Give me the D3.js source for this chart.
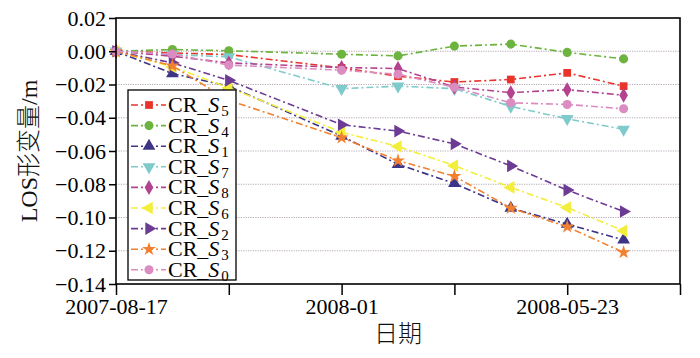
<!DOCTYPE html>
<html><head><meta charset="utf-8">
<script src="https://cdn.jsdelivr.net/npm/d3@7/dist/d3.min.js"></script>
<style>body{margin:0;background:#fff}</style>
</head><body>
<svg id="c" width="700" height="358"></svg>
<script>
// ---- data ----
const xIndex = [0, 1, 2, 4, 5, 6, 7, 8, 9];
const xTickValues = [0, 2, 4, 6, 8, 10];
const xTickLabels = ["2007-08-17", "", "2008-01", "", "2008-05-23", ""];
const yTickValues = [0.02, 0.00, -0.02, -0.04, -0.06, -0.08, -0.10, -0.12, -0.14];
const seriesSub = ["5", "4", "1", "7", "8", "6", "2", "3", "0"];
const S5 = [0, -0.001, -0.002, -0.010, -0.015, -0.0185, -0.017, -0.013, -0.021];
const S4 = [0, 0.001, 0.0003, -0.0018, -0.0028, 0.0031, 0.0043, -0.0007, -0.0046];
const S1 = [0, -0.0134, -0.021, -0.051, -0.068, -0.0795, -0.0943, -0.104, -0.1135];
const S7 = [0, -0.002, -0.0034, -0.0225, -0.021, -0.0225, -0.0332, -0.0406, -0.047];
const S8 = [0, -0.003, -0.007, -0.0098, -0.0104, -0.0215, -0.0249, -0.0231, -0.0265];
const S6 = [0, -0.0094, -0.022, -0.0487, -0.0573, -0.0688, -0.0819, -0.094, -0.108];
const S2 = [0, -0.007, -0.0175, -0.0442, -0.048, -0.0557, -0.069, -0.0835, -0.0964];
const S3 = [0, -0.0088, -0.0295, -0.052, -0.0658, -0.0752, -0.0943, -0.1056, -0.121];
const S0 = [0, -0.0017, -0.0083, -0.0114, -0.0138, -0.0217, -0.031, -0.032, -0.0346];
const seriesValues = [S5, S4, S1, S7, S8, S6, S2, S3, S0];

// ---- styles ----
const colors = ["#e8342b", "#6db33f", "#3c3487", "#7fcaca", "#b4438f", "#f3ee3c", "#6c3b93", "#f28031", "#db8cc0"];
const triUp = d3.symbol().type(d3.symbolTriangle).size(70)();
const shapes = [
  {p: d3.symbol().type(d3.symbolSquare).size(60)(), r: 0},
  {p: d3.symbol().type(d3.symbolCircle).size(65)(), r: 0},
  {p: triUp, r: 0},
  {p: triUp, r: 180},
  {p: d3.symbol().type(d3.symbolDiamond).size(65)(), r: 0},
  {p: triUp, r: -90},
  {p: triUp, r: 90},
  {p: d3.symbol().type(d3.symbolStar).size(60)(), r: 0},
  {p: d3.symbol().type(d3.symbolCircle).size(65)(), r: 0}
];

const svg = d3.select("#c");
const L = 116, R = 680, T = 18, B = 284;
const x = d3.scaleLinear().domain([0, 10]).range([L, R]);
const y = d3.scaleLinear().domain([-0.14, 0.02]).range([B, T]);
const serif = "'Liberation Serif','Times New Roman',serif";

// grid
svg.append("g").selectAll("line").data(yTickValues.filter(v => v < 0.015 && v > -0.135)).join("line")
  .attr("x1", L).attr("x2", R).attr("y1", d => y(d)).attr("y2", d => y(d))
  .attr("stroke", "#b7a8b8").attr("stroke-width", 1).attr("stroke-dasharray", "1.2,1.2");

// series
const line = d3.line().x((d, i) => x(xIndex[i])).y(d => y(d));
const gS = svg.append("g");
seriesValues.forEach((vals, k) => {
  const g = gS.append("g");
  g.append("path").attr("d", line(vals)).attr("fill", "none").attr("stroke", colors[k])
    .attr("stroke-width", 1.6).attr("stroke-dasharray", "7,3,2,3");
  g.selectAll("path.m").data(vals).join("path").attr("class", "m")
    .attr("d", shapes[k].p).attr("fill", colors[k])
    .attr("transform", (d, i) => `translate(${x(xIndex[i])},${y(d)}) rotate(${shapes[k].r})`);
});

// axes
const fmt = v => (v < 0 ? "\u2212" : "") + Math.abs(v).toFixed(2);
const yAxis = svg.append("g").attr("transform", `translate(${L},0)`)
  .call(d3.axisLeft(y).tickValues(yTickValues).tickFormat(fmt).tickSize(7).tickPadding(3));
const xAxis = svg.append("g").attr("transform", `translate(0,${B})`)
  .call(d3.axisBottom(x).tickValues(xTickValues).tickFormat((d, i) => xTickLabels[i]).tickSize(11).tickPadding(3));
[yAxis, xAxis].forEach(a => {
  a.select(".domain").remove();
  a.selectAll("line").attr("stroke", "#000").attr("stroke-width", 1.5);
  a.selectAll("text").attr("font-family", serif).attr("font-size", 22).attr("fill", "#000");
});
svg.append("rect").attr("x", L).attr("y", T).attr("width", R - L).attr("height", B - T)
  .attr("fill", "none").attr("stroke", "#000").attr("stroke-width", 1.6);

// axis titles
const yt = svg.append("text").attr("transform", `translate(37,${(T + B) / 2}) rotate(-90)`)
  .attr("text-anchor", "middle").attr("font-size", 24).attr("fill", "#111");
yt.append("tspan").attr("font-family", serif).text("LOS");
yt.append("tspan").attr("font-family", "'Noto Sans CJK SC'").attr("font-weight", 300).text("形变量");
yt.append("tspan").attr("font-family", serif).text("/m");
svg.append("text").attr("x", (L + R) / 2).attr("y", 342).attr("text-anchor", "middle")
  .attr("font-family", "'Noto Sans CJK SC'").attr("font-weight", 300).attr("font-size", 24).attr("fill", "#111").text("日期");

// legend
const lg = svg.append("g");
lg.append("rect").attr("x", 128).attr("y", 90).attr("width", 108).attr("height", 190)
  .attr("fill", "#fff").attr("stroke", "#000").attr("stroke-width", 1.3);
seriesSub.forEach((s, k) => {
  const cy = 105 + k * 20.6;
  lg.append("line").attr("x1", 131).attr("x2", 166).attr("y1", cy).attr("y2", cy)
    .attr("stroke", colors[k]).attr("stroke-width", 1.6).attr("stroke-dasharray", "7,3,2,3");
  lg.append("path").attr("d", shapes[k].p).attr("fill", colors[k])
    .attr("transform", `translate(149,${cy}) rotate(${shapes[k].r})`);
  const t = lg.append("text").attr("x", 168).attr("y", cy + 7).attr("font-family", serif)
    .attr("font-size", 22).attr("fill", "#000");
  t.append("tspan").text("CR_");
  t.append("tspan").attr("font-style", "italic").text("S");
  t.append("tspan").attr("font-size", 15).attr("dx", 2).attr("dy", 4).text(s);
});
</script>
</body></html>
